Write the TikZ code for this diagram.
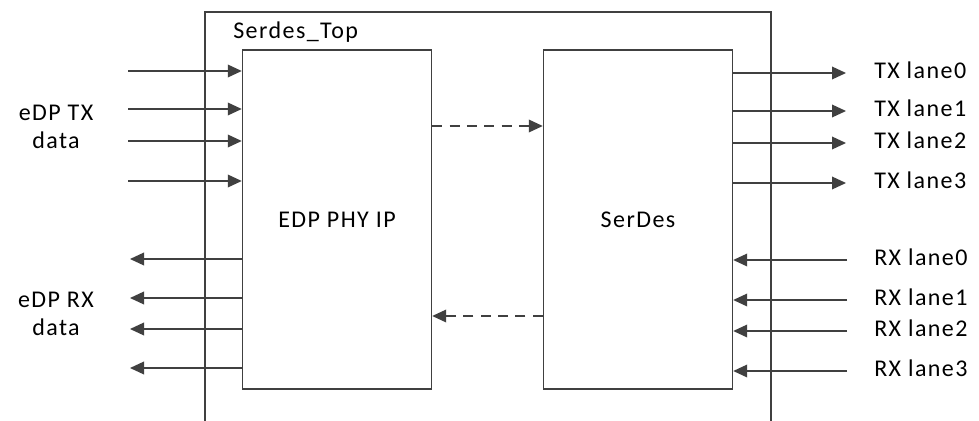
\documentclass[tikz,border=0pt]{standalone}
\usepackage{fontspec}
\setmainfont{Carlito}[LetterSpace=6]
\usepackage{tikz}
\usetikzlibrary{arrows.meta}
\definecolor{wire}{HTML}{404040}
\tikzstyle{block}=[draw=wire, line width=1.1pt, minimum width=141.75pt, minimum height=254.25pt, inner sep=0pt]
\tikzstyle{signal}=[draw=wire, line width=1.1pt, -{Triangle[length=10.5pt, width=9.5pt]}]
\tikzstyle{link}=[style=signal, dash pattern=on 7.5pt off 5.5pt]
\tikzstyle{lane}=[anchor=west, inner sep=0pt]

\begin{document}
\begin{tikzpicture}[x=0.75pt, y=-0.75pt, font=\fontsize{18}{21.5}\selectfont]
  \useasboundingbox (0,0) rectangle (979,421);

  % top level frame
  \draw [draw=wire, line width=1.1pt] (205,421) -- (205,12) -- (771,12) -- (771,421);
  \node (top) [anchor=west, inner sep=0pt] at (233,32) {Serdes\_Top};

  % the two blocks
  \node (edp) [block] at (337,219.5) {EDP PHY IP};
  \node (serdes) [block] at (638,219.5) {SerDes};

  % eDP side
  \node (txdata) [align=center, inner sep=0pt] at (56,127) {eDP TX\\data};
  \node (rxdata) [align=center, inner sep=0pt] at (56,314) {eDP RX\\data};
  \foreach \y [count=\i] in {71,109,141,181} {
    \coordinate (in\i) at (128,\y);
    \draw [signal] (in\i) -- (edp.west |- in\i);
  }
  \foreach \y [count=\i] in {259,298,329,368} {
    \coordinate (out\i) at (130,\y);
    \draw [signal] (edp.west |- out\i) -- (out\i);
  }

  % links between the blocks
  \coordinate (fwd) at (487,126);
  \coordinate (bwd) at (487,316);
  \draw [link] (edp.east |- fwd) -- (serdes.west |- fwd);
  \draw [link] (serdes.west |- bwd) -- (edp.east |- bwd);

  % lanes
  \foreach \y [count=\n from 0] in {73,111,143,183} {
    \node (tx\n) [lane] at (874,\y-3) {TX lane\n};
    \coordinate (txend\n) at (846,\y);
    \draw [signal] (serdes.east |- txend\n) -- (txend\n);
  }
  \foreach \y [count=\n from 0] in {260,300,331,371} {
    \node (rx\n) [lane] at (874,\y-3) {RX lane\n};
    \coordinate (rxend\n) at (847,\y);
    \draw [signal] (rxend\n) -- (serdes.east |- rxend\n);
  }
\end{tikzpicture}
\end{document}
